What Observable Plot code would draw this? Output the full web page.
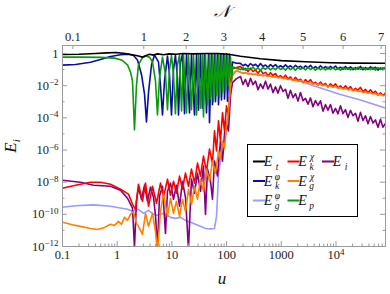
<!DOCTYPE html>
<html><head><meta charset="utf-8">
<script src="https://cdn.jsdelivr.net/npm/d3@7"></script>
<script src="https://cdn.jsdelivr.net/npm/@observablehq/plot@0.6"></script>
<style>
body{margin:0;background:#fff;}
#chart{position:relative;width:390px;height:294px;}
</style></head><body><div id="chart"></div>
<script>
// ---------- data: [u, E] pairs ----------
const Et = [[0.1,0.87],[0.2,0.9],[0.4,1.0],[0.65,1.1],[0.93,1.15],[1.3,1.05],[1.9,0.85],[2.45,0.7],[2.9,0.6],[3.3,0.72],[3.9,0.9],[4.6,0.8],[5.5,0.95],[7,0.85],[9,0.95],[12,0.9],[16,1.0],[25,0.95],[40,1.0],[70,1.0],[108,0.9],[180,0.68],[417,0.47],[1000,0.36],[2770,0.31],[7930,0.27],[20000,0.255],[80360,0.25]];

const EkphiEarly = [[0.1,0.19],[0.173,0.21],[0.325,0.29],[0.495,0.42],[0.755,0.65],[1.149,0.85],[1.61,0.9],[1.986,0.75],[2.35,0.4],[2.78,0.05],[3.16,0.003],[3.43,5.6e-5],[3.74,0.004],[4.24,0.2],[4.81,0.8],[5.69,0.3],[6.19,0.01],[6.73,1.5e-4],[7.32,0.02],[8.31,0.7],[9.03,0.05],[9.83,1.5e-4],[10.7,0.1],[11.6,0.8],[12.66,0.03],[13.2,1.5e-4],[14.4,0.3],[15.6,0.85],[17.0,1.8e-4],[18.5,0.85],[21.0,2e-4],[22.8,0.85],[25.9,1.5e-4],[28.2,0.85],[30.6,3e-4],[33.3,0.85],[36.2,4e-4],[39.4,0.9],[42.9,2e-4],[46.7,0.9],[48.7,5e-5],[52.9,0.9],[55.2,6.5e-4],[60.1,0.9],[62.7,1e-3],[68.2,0.9],[71.1,6.5e-4],[77.3,0.9],[80.7,1.3e-3],[87.7,0.95],[91.6,1.5e-3],[99.6,0.95],[103.8,1.1e-3],[113,0.9],[123,0.05],[128.2,0.3],[151.7,0.25]];

const EpEarly = [[0.1,0.6],[0.213,0.6],[0.495,0.58],[0.893,0.52],[1.198,0.4],[1.543,0.2],[1.75,0.07],[1.905,0.02],[2.07,1.8e-5],[2.25,0.01],[2.45,0.2],[2.9,0.55],[3.29,0.7],[3.89,0.6],[4.42,0.3],[5.01,0.02],[5.45,1.5e-4],[5.93,0.03],[6.73,0.6],[7.64,0.05],[8.31,3.2e-4],[9.03,0.1],[9.83,0.75],[10.7,0.05],[11.6,1.8e-4],[12.66,0.2],[13.8,0.8],[15.0,2.7e-4],[16.3,0.8],[18.5,2e-4],[20.1,0.8],[22.8,3.2e-4],[24.8,0.85],[28.2,1.5e-4],[30.6,0.85],[33.3,4e-4],[36.2,0.85],[37.8,1.15e-4],[41.1,0.85],[44.8,6.5e-4],[48.7,0.85],[50.8,1.5e-3],[55.2,0.85],[57.5,1e-3],[62.7,0.85],[65.4,2.5e-3],[71.1,0.85],[74.1,2e-3],[80.7,0.85],[84.2,4e-3],[91.6,0.85],[95.5,5e-3],[103.8,0.85],[108.3,0.01],[117.9,0.6],[123,0.02],[128.2,0.15],[151.7,0.12]];

const EkchiEarly = [[0.1,4.2e-9],[0.173,6.5e-9],[0.325,1e-8],[0.495,1e-8],[0.755,7.5e-9],[1.149,3.7e-9],[1.61,1.8e-9],[1.905,4.2e-10],[2.16,2.05e-10],[2.45,7.5e-9],[2.9,6.5e-10],[3.29,8.7e-9],[3.74,3.2e-10],[4.42,5.6e-9],[5.23,4.9e-10],[6.19,8.7e-9],[7.02,1.15e-9],[8.31,1.54e-8],[9.43,1.54e-9],[10.7,1.15e-8],[12.1,2.05e-9],[13.8,2.4e-8],[15.6,3.7e-9],[17.7,3.65e-8],[20.1,5.6e-9],[22.8,6.5e-8],[25.9,8.7e-9],[29.4,1.54e-7],[33.3,2.4e-8],[37.8,4.2e-7],[42.9,4.9e-8],[48.7,1.15e-6],[55.2,1.54e-7],[60.1,1.54e-5],[65.4,8.7e-7],[71.1,6.5e-5],[77.3,3.65e-6],[84.2,2.05e-4],[91.6,1.54e-5],[99.6,5.6e-4],[108.3,1.33e-4],[117.9,0.0205],[128.2,0.115],[151.7,0.133]];

const EgchiEarly = [[0.1,3.2e-11],[0.173,2.05e-11],[0.325,1.33e-11],[0.436,1.15e-11],[0.586,1.54e-11],[0.755,2.4e-11],[0.893,2.05e-11],[1.056,3.65e-11],[1.198,2.4e-11],[1.36,6.5e-11],[1.543,4.2e-11],[1.75,1e-10],[1.986,1.54e-10],[2.25,2.75e-11],[2.45,1.8e-11],[2.9,5.6e-12],[3.29,1.15e-10],[3.74,1.8e-11],[4.42,1.15e-10],[5.01,8.7e-12],[5.45,4.9e-13],[6.19,1.54e-10],[7.02,2.05e-9],[8.31,7.5e-11],[9.43,1e-9],[10.7,1.15e-10],[12.1,6.5e-10],[13.8,7.5e-11],[15.6,8.7e-10],[17.7,1.54e-10],[20.1,3.65e-9],[22.8,4.2e-10],[25.9,5.6e-9],[29.4,8.7e-10],[33.3,1.54e-8],[37.8,2.7e-9],[42.9,6.5e-8],[48.7,1.15e-8],[55.2,2.05e-7],[62.7,3.65e-8],[71.1,8.7e-7],[77.3,2.7e-7],[84.2,3.65e-6],[91.6,1.15e-6],[99.6,3.2e-5],[108.3,2.7e-4],[117.9,0.01],[128.2,0.042],[151.7,0.087]];

const EiEarly = [[0.1,1.33e-8],[0.213,1e-8],[0.369,6.5e-9],[0.755,5.6e-9],[1.149,3.2e-9],[1.543,1e-9],[1.905,2.4e-10],[2.07,8.7e-13],[2.25,6.5e-10],[2.45,4.9e-9],[2.78,8.7e-10],[3.16,6.5e-9],[3.58,6.5e-10],[4.06,4.9e-9],[4.61,1.15e-9],[5.01,8.7e-11],[5.45,7.5e-13],[5.93,1.33e-9],[6.73,5.6e-9],[7.64,6.5e-12],[8.31,2.7e-9],[9.43,8.7e-9],[10.7,8.7e-10],[12.1,6.5e-9],[13.8,3.2e-10],[15.6,1.15e-8],[17.7,1.15e-9],[20.1,7.5e-13],[22.8,1.54e-8],[25.9,2.05e-9],[29.4,3.65e-8],[33.3,2.7e-9],[37.8,1e-7],[41.1,1e-10],[44.8,6.5e-8],[50.8,1.15e-8],[55.2,8.7e-10],[60.1,2.05e-7],[68.2,2.4e-8],[77.3,3.65e-6],[84.2,2.05e-7],[95.5,6.5e-5],[108.3,1.54e-5],[117.9,2.4e-3],[128.2,0.0154],[151.7,0.0274]];

const Egphi = [[0.1,2.74e-10],[0.173,3.4e-10],[0.369,3.9e-10],[0.755,3.2e-10],[1.543,2.05e-10],[1.905,1.54e-10],[2.45,2.05e-10],[3.03,1.15e-10],[3.74,1.78e-10],[4.61,1e-10],[5.45,8.7e-11],[7.02,1.15e-10],[9.43,6.5e-11],[11.6,5.6e-11],[14.4,6.5e-11],[17.7,4.2e-11],[21.9,3.2e-11],[27.0,2.4e-11],[33.3,1.8e-11],[41.1,1.33e-11],[50.8,1.24e-11],[60.1,1.33e-11],[65.4,7.5e-11],[68.2,1.33e-9],[71.1,3.2e-8],[77.3,2.05e-7],[84.2,8.7e-7],[91.6,3.65e-6],[99.6,1.54e-5],[108.3,2.7e-4],[117.9,0.01],[128.2,0.065],[151.7,0.08],[180,0.068],[273,0.055],[514,0.043],[967,0.033],[2245,0.019],[3900,0.0098],[12080,0.0028],[28050,0.0013],[80360,4.1e-4]];

// late-time samples share one u grid
const uLate = [179.6,199.5,221.6,246.2,273.5,303.9,337.6,375.1,416.7,463,514.4,571.4,634.9,705.3,783.5,870.5,967.2,1074.6,1193.9,1326.3,1473.6,1636.8,1818.7,2020.5,2244.8,2494,2771,3078,3420,3799,4221,4688,5209,5786,6429,7142,7934,8814,9793,10880,12087,13428,14918,16573,18412,20455,22724,25245,28047,31158,34615,38455,42722,47461,52726,58577,65075,72294,80314];
const EkphiLate = [0.245,0.174,0.214,0.158,0.24,0.174,0.214,0.151,0.24,0.158,0.195,0.138,0.204,0.155,0.204,0.138,0.174,0.138,0.2,0.138,0.174,0.126,0.186,0.135,0.166,0.12,0.174,0.129,0.186,0.123,0.155,0.115,0.174,0.123,0.155,0.11,0.158,0.123,0.166,0.11,0.141,0.105,0.155,0.107,0.148,0.1,0.132,0.107,0.158,0.0977,0.135,0.102,0.148,0.107,0.141,0.0933,0.129,0.1,0.138];
const EpLate = [0.1,0.135,0.0933,0.126,0.102,0.141,0.0977,0.129,0.0912,0.132,0.105,0.138,0.0955,0.129,0.1,0.145,0.102,0.126,0.0933,0.135,0.1,0.129,0.0912,0.138,0.105,0.132,0.0955,0.141,0.102,0.129,0.0933,0.135,0.1,0.126,0.0955,0.145,0.102,0.132,0.0977,0.129,0.0912,0.138,0.105,0.132,0.0955,0.129,0.1,0.141,0.102,0.135,0.0955,0.129,0.1,0.138,0.0933,0.132,0.102,0.135,0.1];
const EkchiLate = [0.158,0.0977,0.12,0.0759,0.123,0.0776,0.0955,0.0589,0.0977,0.0562,0.0676,0.0417,0.0646,0.0437,0.0575,0.0324,0.0427,0.0295,0.0457,0.0263,0.0347,0.0214,0.0331,0.0209,0.0251,0.0155,0.024,0.0158,0.024,0.0132,0.0166,0.011,0.017,0.0107,0.0138,0.00832,0.0132,0.00912,0.0129,0.00724,0.00977,0.00646,0.01,0.00617,0.00871,0.00501,0.00692,0.00513,0.00794,0.00417,0.00589,0.0038,0.00562,0.00347,0.00457,0.00257,0.00363,0.00245,0.00347];
const EgchiLate = [0.0692,0.0575,0.0631,0.0525,0.0575,0.0479,0.0525,0.0437,0.0479,0.0407,0.0447,0.0372,0.0407,0.0339,0.0372,0.0309,0.0339,0.0275,0.0295,0.0245,0.0263,0.0214,0.0229,0.0191,0.0204,0.0166,0.0178,0.0148,0.0158,0.0129,0.0138,0.0115,0.0123,0.01,0.011,0.00891,0.00977,0.00794,0.00851,0.00708,0.00759,0.00617,0.00676,0.0055,0.00603,0.0049,0.00525,0.00437,0.00468,0.0038,0.00417,0.00339,0.00372,0.00302,0.00324,0.00269,0.00288,0.0024,0.00257];
const EiLate = [0.0372,0.012,0.0245,0.00891,0.0288,0.0117,0.0195,0.00562,0.0129,0.00661,0.0191,0.00617,0.0126,0.00372,0.00851,0.00347,0.01,0.00437,0.00603,0.00166,0.00513,0.00182,0.00316,0.0011,0.0038,0.00117,0.00162,7.08e-4,0.00174,4.9e-4,0.0012,5.89e-4,0.00115,2.63e-4,6.61e-4,3.02e-4,6.76e-4,1.95e-4,3.89e-4,1.78e-4,5.62e-4,1.82e-4,3.24e-4,1.05e-4,2.95e-4,1.35e-4,1.91e-4,6.17e-5,2.19e-4,6.92e-5,1.35e-4,4.27e-5,1.2e-4,4.79e-5,7.41e-5,2.63e-5,8.32e-5,2.63e-5,4.57e-5];

// axes
const xTicks = [0.1,1,10,100,1000,1e4];
const yTicks = [1,1e-2,1e-4,1e-6,1e-8,1e-10,1e-12];
const topLabels = ["0.1","1","2","3","4","5","6","7"];
const topU = [0.155,3.06,18.2,89,447,2500,13500,67000];

// ---------- build ----------
const late = (vals) => uLate.map((u,i) => [u, vals[i]]);
const series = [
  {key:"Egphi", color:"#9a9aff", pts: Egphi},
  {key:"Ei",    color:"#800080", pts: EiEarly.concat(late(EiLate))},
  {key:"Ekchi", color:"#ff0000", pts: EkchiEarly.concat(late(EkchiLate))},
  {key:"Egchi", color:"#ff8000", pts: EgchiEarly.concat(late(EgchiLate))},
  {key:"Ekphi", color:"#0b0ba6", pts: EkphiEarly.concat(late(EkphiLate))},
  {key:"Ep",    color:"#0a9a0a", pts: EpEarly.concat(late(EpLate))},
  {key:"Et",    color:"#000000", pts: Et}
];

const W = 390, H = 294, mL = 62, mR = 5, mT = 45, mB = 48;
const innerW = W - mL - mR, innerH = H - mT - mB;
const xDomain = [0.1, 8.04e4], yDomain = [1e-12, 3.16];

const xMinor = [];
for (let e = -1; e <= 4; e++) for (let m = 2; m <= 9; m++) { const v = m * Math.pow(10, e); if (v < xDomain[1]) xMinor.push(v); }
const yMinor = [1e-1,1e-3,1e-5,1e-7,1e-9,1e-11];

const serif = "'Liberation Serif','DejaVu Serif',serif";
const gray = "#9a9a9a";
const fmtX = d => d === 1e4 ? "10^4" : String(d);
const fmtY = d => d === 1 ? "1" : "10^\u2212" + Math.round(-Math.log10(d));

const marks = [];
series.forEach(s => marks.push(Plot.line(s.pts, {x: d => d[0], y: d => d[1], stroke: s.color, strokeWidth: 1.6, clip: true})));
marks.push(
  Plot.frame({stroke: gray}),
  Plot.tickX(xTicks, {stroke: gray, insetTop: innerH - 5}),
  Plot.tickX(xMinor, {stroke: gray, insetTop: innerH - 2.5}),
  Plot.tickX(topU, {stroke: gray, insetBottom: innerH - 4}),
  Plot.tickY(yTicks, {stroke: gray, insetRight: innerW - 5}),
  Plot.tickY(yMinor, {stroke: gray, insetRight: innerW - 2.5}),
  Plot.tickY(yTicks, {stroke: gray, insetLeft: innerW - 5}),
  Plot.tickY(yMinor, {stroke: gray, insetLeft: innerW - 2.5}),
  Plot.axisX(xTicks, {anchor: "bottom", tickSize: 0, tickPadding: 4, tickFormat: fmtX, label: null, fontSize: 12.5}),
  Plot.text(topU, {x: d => d, text: (d, i) => topLabels[i], frameAnchor: "top", lineAnchor: "bottom", dy: -5, fontSize: 12.5, fill: "#222"}),
  Plot.axisY(yTicks, {anchor: "left", tickSize: 0, tickPadding: 4, tickFormat: fmtY, label: null, fontSize: 12.5})
);

const plot = Plot.plot({
  width: W, height: H, marginLeft: mL, marginRight: mR, marginTop: mT, marginBottom: mB,
  x: {type: "log", domain: xDomain},
  y: {type: "log", domain: yDomain},
  style: {fontFamily: serif, fontSize: "12.5px", color: "#222", background: "white"},
  marks
});
document.getElementById("chart").append(plot);

const svg = d3.select(plot);
// superscript exponents in tick labels
svg.selectAll("text").each(function () {
  const m = this.textContent.match(/^10\^(.+)$/);
  if (m) {
    const el = d3.select(this);
    el.text("10");
    el.append("tspan").attr("dy", "-0.5em").attr("font-size", "0.72em").text(m[1]);
  }
});

// axis titles
svg.append("text").attr("x", 222).attr("y", 17).attr("text-anchor", "middle")
  .attr("font-family", serif).attr("font-size", 17).attr("font-style", "italic").attr("fill", "#111").text("\u{1D4A9}");
svg.append("text").attr("x", 222).attr("y", 284).attr("text-anchor", "middle")
  .attr("font-family", serif).attr("font-size", 17).attr("font-style", "italic").attr("fill", "#111").text("u");
const yt = svg.append("text").attr("transform", "translate(16,146) rotate(-90)").attr("text-anchor", "middle")
  .attr("font-family", serif).attr("font-size", 17).attr("font-style", "italic").attr("fill", "#111");
yt.append("tspan").text("E");
yt.append("tspan").attr("dy", 4).attr("font-size", 11).text("i");

// legend
const legendItems = [
  {col:0,row:0,color:"#000000",sub:"t"},
  {col:1,row:0,color:"#ff0000",sub:"k",sup:"\u03C7"},
  {col:2,row:0,color:"#800080",sub:"i"},
  {col:0,row:1,color:"#0b0ba6",sub:"k",sup:"\u03C6"},
  {col:1,row:1,color:"#ff8000",sub:"g",sup:"\u03C7"},
  {col:0,row:2,color:"#9a9aff",sub:"g",sup:"\u03C6"},
  {col:1,row:2,color:"#0a9a0a",sub:"p"}
];
const colX = [253, 287.5, 322], rowY = [161.5, 181, 200.5];
const lg = svg.append("g").attr("font-family", serif).attr("font-style", "italic").attr("fill", "#111");
lg.append("rect").attr("x", 247.5).attr("y", 144.5).attr("width", 110).attr("height", 72)
  .attr("fill", "white").attr("stroke", "#000").attr("stroke-width", 1);
legendItems.forEach(it => {
  const cx = colX[it.col], cy = rowY[it.row];
  lg.append("line").attr("x1", cx).attr("x2", cx + 12).attr("y1", cy).attr("y2", cy)
    .attr("stroke", it.color).attr("stroke-width", 2);
  const tx = cx + 15;
  lg.append("text").attr("x", tx).attr("y", cy + 4.5).attr("font-size", 14).text("E");
  if (it.sup) lg.append("text").attr("x", tx + 9.5).attr("y", cy - 1.5).attr("font-size", 9.5).text(it.sup);
  if (it.sub) lg.append("text").attr("x", tx + 9).attr("y", cy + 8).attr("font-size", 9.5).text(it.sub);
});
</script></body></html>
